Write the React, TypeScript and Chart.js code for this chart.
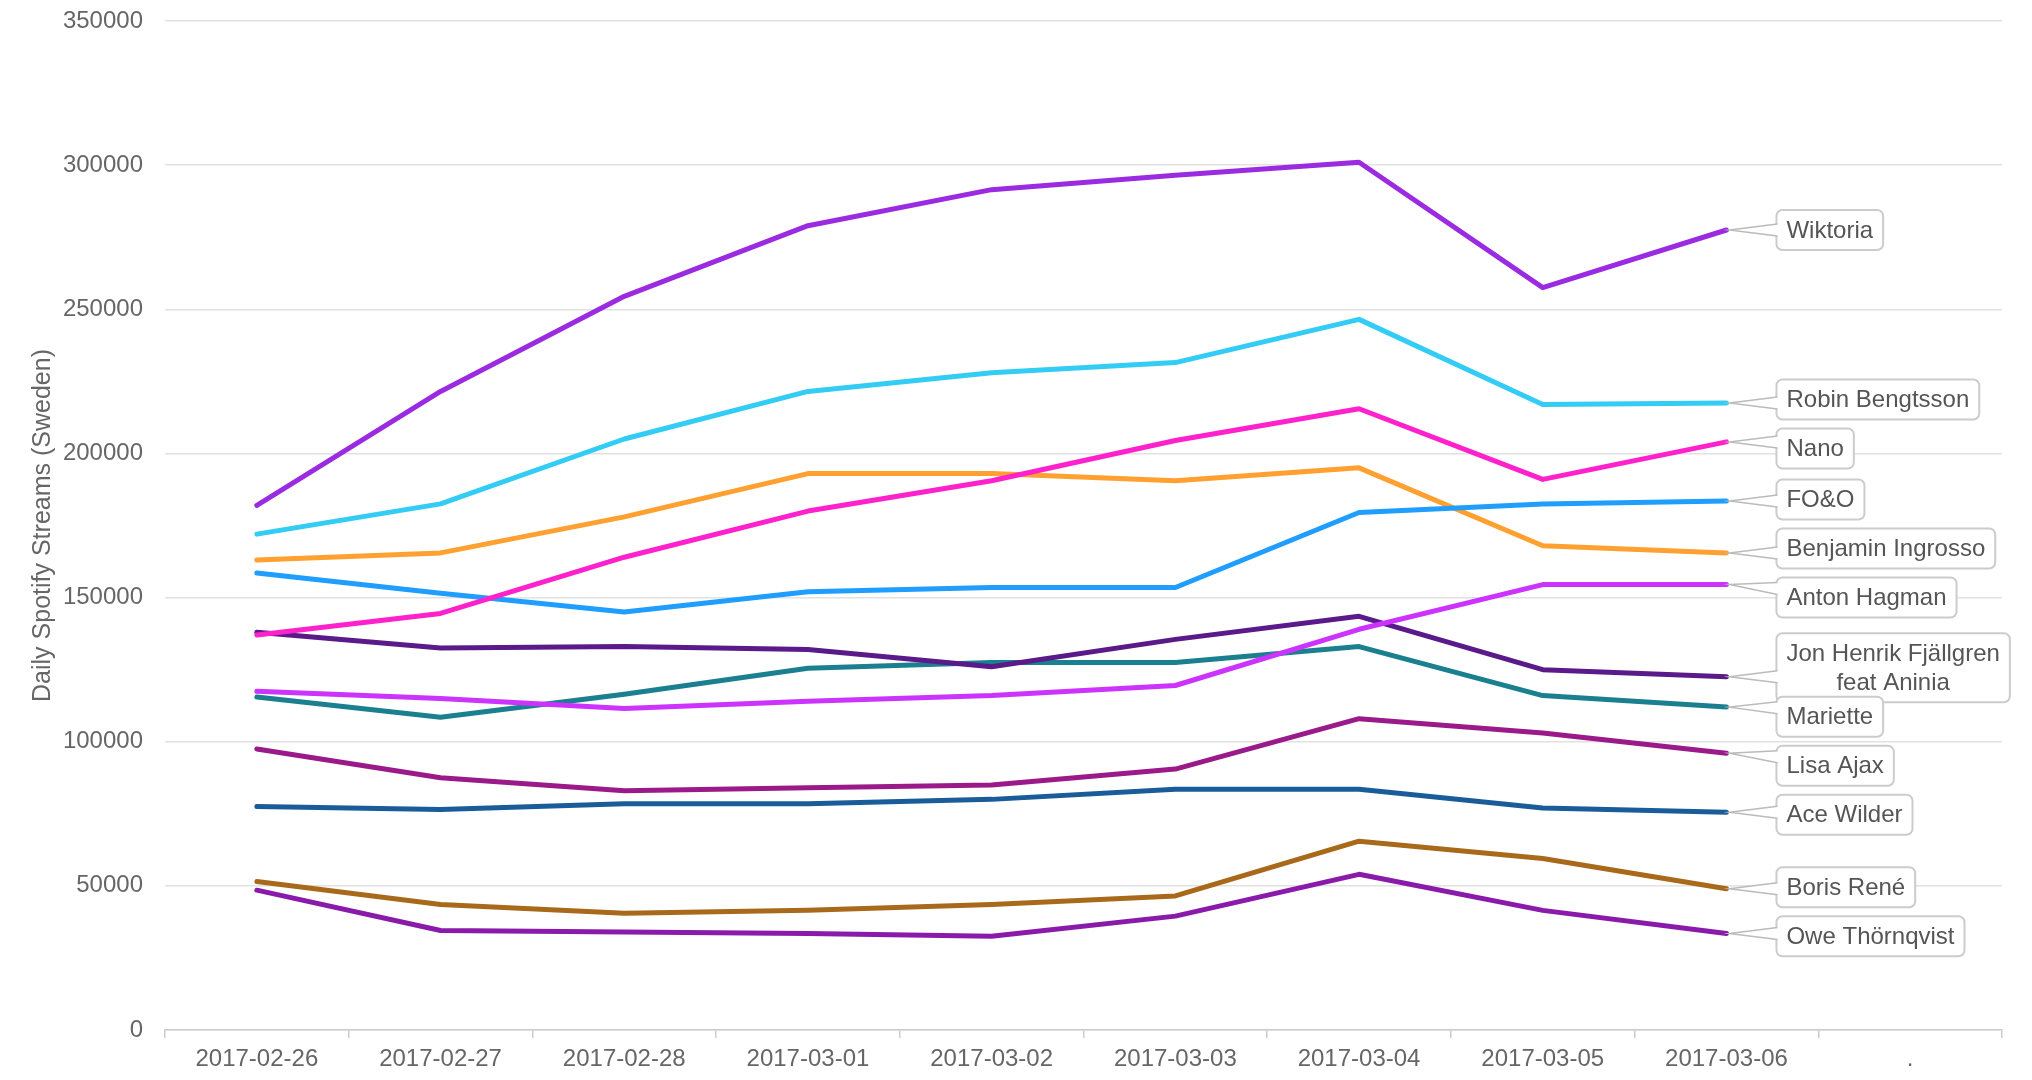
import React, { useEffect, useRef } from "react";
import { Chart, registerables } from "chart.js";

Chart.register(...registerables);

const categories = [
  "2017-02-26",
  "2017-02-27",
  "2017-02-28",
  "2017-03-01",
  "2017-03-02",
  "2017-03-03",
  "2017-03-04",
  "2017-03-05",
  "2017-03-06",
  ".",
];

const yTicks = [0, 50000, 100000, 150000, 200000, 250000, 300000, 350000];

const wiktoria = [182000, 221500, 254500, 279000, 291500, 296500, 301000, 257500, 277500];
const robinBengtsson = [172000, 182500, 205000, 221500, 228000, 231500, 246500, 217000, 217500];
const nano = [137000, 144500, 164000, 180000, 190500, 204500, 215500, 191000, 204000];
const foAndO = [158500, 151500, 145000, 152000, 153500, 153500, 179500, 182500, 183500];
const benjaminIngrosso = [163000, 165500, 178000, 193000, 193000, 190500, 195000, 168000, 165500];
const antonHagman = [117500, 115000, 111500, 114000, 116000, 119500, 139000, 154500, 154500];
const jonHenrik = [138000, 132500, 133000, 132000, 126000, 135500, 143500, 125000, 122500];
const mariette = [115500, 108500, 116500, 125500, 127500, 127500, 133000, 116000, 112000];
const lisaAjax = [97500, 87500, 83000, 84000, 85000, 90500, 108000, 103000, 96000];
const aceWilder = [77500, 76500, 78500, 78500, 80000, 83500, 83500, 77000, 75500];
const borisRene = [51500, 43500, 40500, 41500, 43500, 46500, 65500, 59500, 49000];
const oweThornqvist = [48500, 34500, 34000, 33500, 32500, 39500, 54000, 41500, 33500];

const seriesNames = [
  "Wiktoria",
  "Robin Bengtsson",
  "Nano",
  "FO&O",
  "Benjamin Ingrosso",
  "Anton Hagman",
  "Jon Henrik Fjällgren feat Aninia",
  "Mariette",
  "Lisa Ajax",
  "Ace Wilder",
  "Boris René",
  "Owe Thörnqvist",
];

const seriesValues = [
  wiktoria,
  robinBengtsson,
  nano,
  foAndO,
  benjaminIngrosso,
  antonHagman,
  jonHenrik,
  mariette,
  lisaAjax,
  aceWilder,
  borisRene,
  oweThornqvist,
];

const seriesColors = [
  "#9b2be0",
  "#33ccf5",
  "#ff22cc",
  "#1f9eff",
  "#ffa030",
  "#cc33ff",
  "#5a1a8a",
  "#1a7f8f",
  "#9b1a8a",
  "#1a5c99",
  "#a86a1a",
  "#8a1aaa",
];

const FONT = "'Liberation Sans', Arial, sans-serif";

function wrapText(ctx: CanvasRenderingContext2D, text: string, maxW: number): string[] {
  const words = text.split(" ");
  const lines: string[] = [];
  let cur = "";
  for (const w of words) {
    const test = cur ? cur + " " + w : w;
    if (ctx.measureText(test).width > maxW && cur) {
      lines.push(cur);
      cur = w;
    } else {
      cur = test;
    }
  }
  if (cur) lines.push(cur);
  return lines;
}

const calloutPlugin = {
  id: "callouts",
  afterDatasetsDraw(chart: any) {
    const ctx: CanvasRenderingContext2D = chart.ctx;
    ctx.save();
    ctx.font = `24px ${FONT}`;
    const lineH = 29;
    const items = chart.data.datasets.map((ds: any, i: number) => {
      const meta = chart.getDatasetMeta(i);
      const pts = meta.data;
      const p = pts[pts.length - 1];
      const lines = wrapText(ctx, ds.label, 225);
      const tw = Math.max(...lines.map((l: string) => ctx.measureText(l).width));
      return {
        px: p.x,
        py: p.y,
        lines,
        w: tw + 20,
        h: lines.length * lineH + 11,
        cy: p.y,
      };
    });
    const sorted = [...items].sort((a: any, b: any) => a.py - b.py);
    const minGap = 49;
    for (let it = 0; it < 800; it++) {
      let moved = false;
      for (let k = 0; k < sorted.length - 1; k++) {
        const a = sorted[k];
        const b = sorted[k + 1];
        const ov = a.cy + minGap - b.cy;
        if (ov > 0.01) {
          a.cy -= ov * 0.35;
          b.cy += ov * 0.65;
          moved = true;
        }
      }
      if (!moved) break;
    }
    items.forEach((it: any) => {
      const bx = it.px + 50;
      const top = it.cy - it.h / 2;
      const bottom = it.cy + it.h / 2;
      ctx.beginPath();
      (ctx as any).roundRect(bx, top, it.w, it.h, 6);
      ctx.fillStyle = "#ffffff";
      ctx.fill();
      ctx.lineWidth = 2;
      ctx.strokeStyle = "#cccccc";
      ctx.stroke();
      const ay = Math.min(Math.max(it.py, top + 11), bottom - 11);
      ctx.beginPath();
      ctx.moveTo(bx + 1.5, ay - 6);
      ctx.lineTo(it.px + 3, it.py);
      ctx.lineTo(bx + 1.5, ay + 6);
      ctx.closePath();
      ctx.fillStyle = "#ffffff";
      ctx.fill();
      ctx.beginPath();
      ctx.moveTo(bx + 1, ay - 6);
      ctx.lineTo(it.px + 3, it.py);
      ctx.lineTo(bx + 1, ay + 6);
      ctx.lineWidth = 1.5;
      ctx.strokeStyle = "#bbbbbb";
      ctx.stroke();
      ctx.fillStyle = "#555555";
      ctx.textAlign = "center";
      ctx.textBaseline = "middle";
      const n = it.lines.length;
      it.lines.forEach((l: string, j: number) => {
        ctx.fillText(l, bx + it.w / 2, it.cy + (j - (n - 1) / 2) * lineH + 1);
      });
    });
    ctx.restore();
  },
};

export default function App() {
  const canvasRef = useRef<HTMLCanvasElement | null>(null);

  useEffect(() => {
    if (!canvasRef.current) return;
    Chart.defaults.font.family = FONT;
    const chart = new Chart(canvasRef.current, {
      type: "line",
      data: {
        labels: categories,
        datasets: seriesNames.map((name, i) => ({
          label: name,
          data: seriesValues[i],
          borderColor: seriesColors[i],
          backgroundColor: seriesColors[i],
          borderWidth: 5,
          pointRadius: 0,
          pointHoverRadius: 0,
          tension: 0,
          fill: false,
          borderJoinStyle: "round" as const,
          borderCapStyle: "round" as const,
        })),
      },
      options: {
        animation: false,
        responsive: true,
        maintainAspectRatio: false,
        layout: { padding: { top: 21, right: 30, left: 0, bottom: 0 } },
        plugins: {
          legend: { display: false },
          tooltip: { enabled: false },
        },
        scales: {
          x: {
            type: "category",
            offset: true,
            grid: {
              offset: true,
              drawOnChartArea: false,
              drawTicks: true,
              tickLength: 8,
              color: "#cccccc",
              lineWidth: 1.5,
            },
            border: { display: true, color: "#cccccc", width: 1.5 },
            ticks: {
              color: "#666666",
              font: { size: 24, family: FONT },
              padding: 7,
              maxRotation: 0,
              autoSkip: false,
            },
            afterFit: (scale: any) => {
              scale.height = 50;
            },
          },
          y: {
            min: 0,
            max: 350000,
            afterBuildTicks: (scale: any) => {
              scale.ticks = yTicks.map((v) => ({ value: v }));
            },
            grid: {
              drawTicks: false,
              color: "#e2e2e2",
              lineWidth: 1.5,
            },
            border: { display: false },
            ticks: {
              color: "#666666",
              font: { size: 24, family: FONT },
              padding: 22,
              callback: (v: any) => String(v),
            },
            title: {
              display: true,
              text: "Daily Spotify Streams (Sweden)",
              color: "#666666",
              font: { size: 25, family: FONT },
              padding: { top: 28, bottom: 0 },
            },
            afterFit: (scale: any) => {
              scale.width = 165;
              scale.paddingTop = 0;
              scale.paddingBottom = 0;
            },
          },
        },
      },
      plugins: [calloutPlugin],
    });
    return () => chart.destroy();
  }, []);

  return (
    <div style={{ position: "fixed", left: 0, top: 0, width: 2032, height: 1080, background: "#ffffff" }}>
      <canvas ref={canvasRef} />
    </div>
  );
}
